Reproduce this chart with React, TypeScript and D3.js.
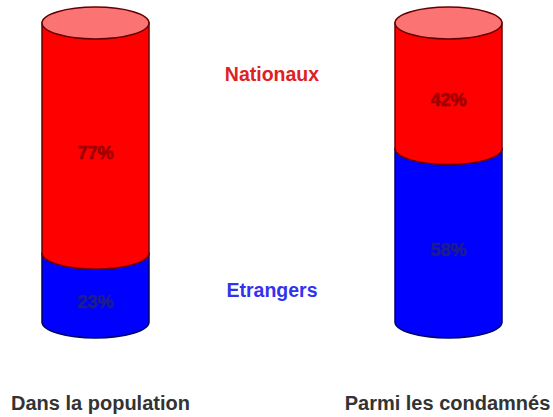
import React from 'react';
import * as d3 from 'd3';

const groups = ['Dans la population', 'Parmi les condamnés'];
const series = ['Etrangers', 'Nationaux'];
const etrangers = [23, 58];
const nationaux = [77, 42];

const W = 553;
const H = 417;
const FONT = '"Liberation Sans", Arial, Helvetica, sans-serif';

const fills: Record<string, string> = { Etrangers: '#0000ff', Nationaux: '#ff0000' };
const strokes: Record<string, string> = { Etrangers: '#000066', Nationaux: '#660000' };
const labelColors: Record<string, string> = { Etrangers: '#1c1c90', Nationaux: '#a00000' };
const legendColors: Record<string, string> = { Etrangers: '#3333ee', Nationaux: '#dd2222' };

const App: React.FC = () => {
  const x = d3.scalePoint<string>().domain(groups).range([95.5, 448.5]);
  const y = d3.scaleLinear().domain([0, 100]).range([322, 23]);
  const rx = 53.5;
  const ry = 16;

  const table = groups.map((g, i) => ({ group: g, Etrangers: etrangers[i], Nationaux: nationaux[i] }));
  const stacked = d3.stack<any>().keys(series)(table);

  // bottom arc from left to right, through the lower half
  const segPath = (cx: number, yTop: number, yBot: number) => {
    const x0 = cx - rx;
    const x1 = cx + rx;
    return `M${x0},${yTop} L${x0},${yBot} A${rx},${ry} 0 0 0 ${x1},${yBot} L${x1},${yTop} Z`;
  };

  return (
    <svg width={W} height={H} style={{ position: 'absolute', left: 0, top: 0, background: '#fff' }}>
      {groups.map((g, gi) => {
        const cx = x(g)!;
        return (
          <g key={g}>
            {stacked.map(layer => {
              const d = layer[gi];
              return (
                <path key={layer.key} d={segPath(cx, y(d[1]), y(d[0]))}
                  fill={fills[layer.key]} stroke={strokes[layer.key]} strokeWidth={1.5} />
              );
            })}
            <ellipse cx={cx} cy={y(100)} rx={rx} ry={ry} fill="#fb7373" stroke="#660000" strokeWidth={1.5} />
            {stacked.map(layer => {
              const d = layer[gi];
              const mid = (y(d[0]) + y(d[1])) / 2 + ry * 0.9;
              return (
                <text key={layer.key} x={cx} y={mid} dy="0.35em" textAnchor="middle"
                  fontFamily={FONT} fontWeight={700} fontSize={18} fill={labelColors[layer.key]}
                  stroke={labelColors[layer.key]} strokeWidth={0.7}>
                  {`${d[1] - d[0]}%`}
                </text>
              );
            })}
            <text x={cx + (gi === 0 ? 5 : -1)} y={410} textAnchor="middle" fontFamily={FONT} fontWeight={700} fontSize={20} fill="#333">
              {g}
            </text>
          </g>
        );
      })}
      <text x={272} y={81} textAnchor="middle" fontFamily={FONT} fontWeight={700} fontSize={19.5} fill={legendColors.Nationaux}>
        Nationaux
      </text>
      <text x={272} y={297} textAnchor="middle" fontFamily={FONT} fontWeight={700} fontSize={19.5} fill={legendColors.Etrangers}>
        Etrangers
      </text>
    </svg>
  );
};

export default App;
